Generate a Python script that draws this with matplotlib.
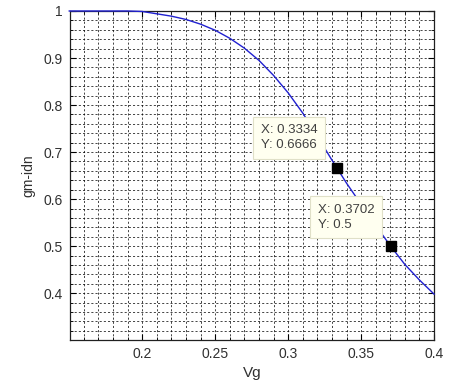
import numpy as np
import matplotlib.pyplot as plt
from matplotlib.ticker import MultipleLocator

# curve
vg = [0.15, 0.16, 0.17, 0.18, 0.19, 0.20, 0.21, 0.22, 0.23, 0.24, 0.25, 0.26, 0.27,
      0.28, 0.29, 0.30, 0.31, 0.32, 0.33, 0.34, 0.35, 0.36, 0.37, 0.38, 0.39, 0.40]
gm_idn = [1.0, 1.0, 1.0, 1.0, 1.0, 0.999, 0.994, 0.989, 0.982, 0.972, 0.959, 0.942, 0.921,
          0.895, 0.863, 0.826, 0.783, 0.734, 0.683, 0.634, 0.589, 0.544, 0.501, 0.461, 0.428, 0.398]

tip_x = [0.3334, 0.3702]
tip_y = [0.6666, 0.5]
tip_labels = ["X: 0.3334\nY: 0.6666", "X: 0.3702\nY: 0.5"]

x_ticks = [0.2, 0.25, 0.3, 0.35, 0.4]
y_ticks = [0.4, 0.5, 0.6, 0.7, 0.8, 0.9, 1]

plt.rcParams['font.family'] = ['Liberation Sans', 'DejaVu Sans']
txt = '#303030'

fig = plt.figure(figsize=(4.55, 3.83), dpi=100)
ax = fig.add_axes([0.1538, 0.1123, 0.8002, 0.859])

ax.plot(vg, gm_idn, color='#2020d0', linewidth=1.0, zorder=3, clip_on=False)

ax.set_xlim(0.1505, 0.4)
ax.set_ylim(0.3005, 1.0)
ax.set_xticks(x_ticks)
ax.set_xticklabels(['0.2', '0.25', '0.3', '0.35', '0.4'])
ax.set_yticks(y_ticks)
ax.set_yticklabels(['0.4', '0.5', '0.6', '0.7', '0.8', '0.9', '1'])
ax.xaxis.set_minor_locator(MultipleLocator(0.01))
ax.yaxis.set_minor_locator(MultipleLocator(0.02))

ax.grid(True, which='both', color='black', linewidth=0.6, linestyle=(0, (2.5, 2.5)), alpha=0.85)
ax.set_axisbelow(True)

ax.tick_params(which='both', direction='in', top=True, right=True, colors='black',
               labelcolor=txt, labelsize=10, pad=5)
ax.tick_params(which='major', length=4, width=0.8)
ax.tick_params(which='minor', length=2, width=0.6)
for s in ax.spines.values():
    s.set_linewidth(0.9)
    s.set_color('#202020')

ax.set_xlabel('Vg', fontsize=11, color=txt, labelpad=4)
ax.set_ylabel('gm-idn', fontsize=10, color=txt, labelpad=6)

offsets = [(-76, 30), (-73, 29)]
for xv, yv, lab, off in zip(tip_x, tip_y, tip_labels, offsets):
    ax.plot(xv, yv, marker='s', markersize=7.5, color='black', zorder=6)
    ax.annotate(lab, xy=(xv, yv), xytext=off, textcoords='offset pixels',
                ha='left', va='center', fontsize=9.5, color='#404040', zorder=7,
                linespacing=1.3,
                bbox=dict(boxstyle='square,pad=0.6', facecolor='#fffff0',
                          edgecolor='#e0e0c8', linewidth=0.8))

fig.savefig('out.png', dpi=100)
